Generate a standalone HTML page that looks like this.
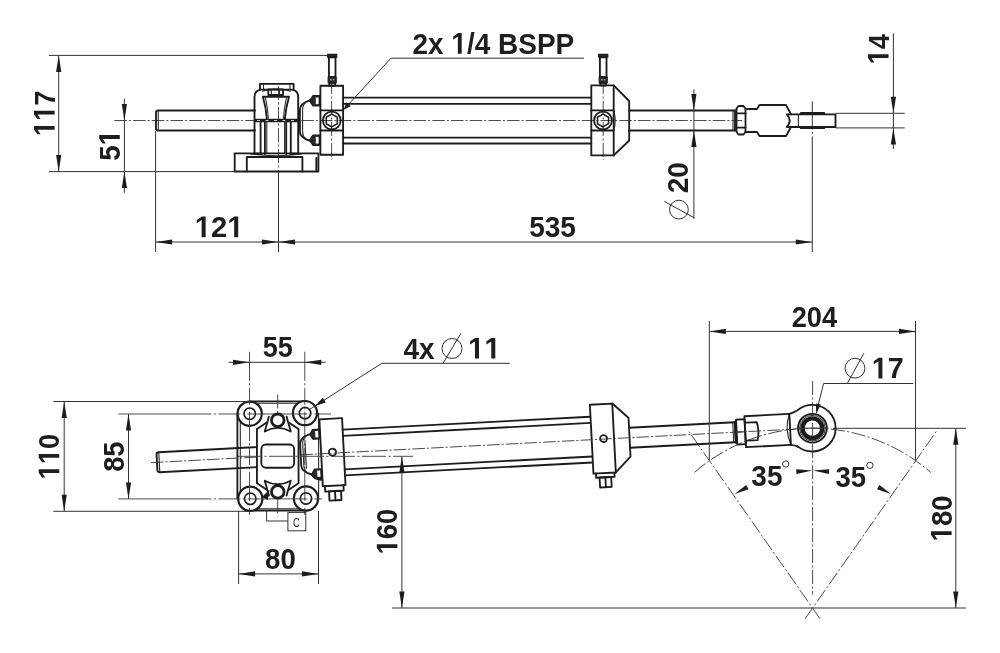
<!DOCTYPE html>
<html><head><meta charset="utf-8"><title>Cylinder dimensions</title>
<style>
html,body{margin:0;padding:0;background:#fff;}
body{width:1000px;height:653px;overflow:hidden;font-family:"Liberation Sans",sans-serif;}
svg{display:block;filter:blur(0.4px)}
.t{fill:none;stroke:#1c1c1c;stroke-width:1.85;stroke-linejoin:round;stroke-linecap:round}
.tw{fill:#fff;stroke:#1c1c1c;stroke-width:1.85;stroke-linejoin:round}
.tkw{fill:#fff;stroke:#1c1c1c;stroke-width:2.8}
.tt{fill:none;stroke:#1c1c1c;stroke-width:2.4;stroke-linecap:round}
.tf{fill:#2a2a2a;stroke:#1c1c1c;stroke-width:1.2;stroke-linejoin:round}
.w{fill:#fff;stroke:none}
.wl{stroke:#fff;stroke-width:0.8}
.m{fill:none;stroke:#2a2a2a;stroke-width:1.1}
.bo{fill:#fff;stroke:#1c1c1c;stroke-width:2.2}
.bi{fill:none;stroke:#1c1c1c;stroke-width:1.65}
.band{stroke:#1c1c1c;stroke-width:3.6}
.h{fill:none;stroke:#1c1c1c;stroke-width:1.5;stroke-linejoin:miter}
.n{fill:none;stroke:#333;stroke-width:1}
.c{fill:none;stroke:#383838;stroke-width:0.9;stroke-dasharray:14 2.5 2 2.5}
.c2{fill:none;stroke:#333;stroke-width:1;stroke-dasharray:28 2.5 2 2.5 300}
.a{fill:#1c1c1c;stroke:none}
.ring{fill:none;stroke:#1c1c1c;stroke-width:4.4}
.tx{font-family:"Liberation Sans",sans-serif;font-weight:bold;font-size:28px;fill:#1e1e1e;font-kerning:none;letter-spacing:0}
.hid{fill:none}
.one{fill:#1e1e1e}
.txr{font-family:"Liberation Sans",sans-serif;font-size:12.5px;fill:#222}
</style></head>
<body>
<svg width="1000" height="653" viewBox="0 0 1000 653">
<rect x="0" y="0" width="1000" height="653" fill="#ffffff"/>
<g id="top">
<line x1="114.40" y1="120.50" x2="742.00" y2="120.50" class="c" style="stroke-dasharray:12.5 2 2 2.2"/>
<line x1="278.50" y1="86.00" x2="278.50" y2="172.00" class="c"/>
<line x1="278.50" y1="172.00" x2="278.50" y2="252.00" class="n"/>
<line x1="331.60" y1="80.00" x2="331.60" y2="160.00" class="c"/>
<line x1="603.20" y1="80.00" x2="603.20" y2="160.00" class="c"/>
<line x1="812.30" y1="101.40" x2="812.30" y2="252.00" class="c2"/>
<path d="M255,110.5 H158 Q156,110.5 156,112.5 V128.5 Q156,130.5 158,130.5 H255" class="t" />
<line x1="158.30" y1="110.50" x2="158.30" y2="130.50" class="m"/>
<path d="M260,89.6 V83.8 H293.6 V89.6" class="t" />
<line x1="263.50" y1="83.80" x2="263.50" y2="89.00" class="m"/>
<line x1="290.00" y1="83.80" x2="290.00" y2="89.00" class="m"/>
<path d="M254.5,154 V97 Q254.5,90.5 261,89.6 H292 Q298.2,90.5 298.2,97 V154" class="t" />
<path d="M262,91.2 Q276,87 291,91.2" class="m" />
<rect x="268.30" y="89.40" width="14.70" height="5.60" rx="0" class="t"/>
<line x1="271.40" y1="89.40" x2="271.40" y2="95.00" class="m"/>
<line x1="279.50" y1="89.40" x2="279.50" y2="95.00" class="m"/>
<path d="M262.9,96.7 H289 Q286,107 284.9,118.6 M262.9,96.7 Q266,107 266.8,118.6" class="t" />
<path d="M265.4,97 Q267.6,108 268.4,118.6 M286.5,97 Q284.2,108 283.4,118.6" class="m" />
<line x1="254.50" y1="120.55" x2="298.20" y2="120.55" class="band"/>
<line x1="257.00" y1="120.55" x2="297.00" y2="120.55" class="wl" style="stroke-dasharray:3 5.5"/>
<line x1="260.60" y1="121.70" x2="260.60" y2="154.00" class="t"/>
<line x1="264.90" y1="121.70" x2="264.90" y2="154.00" class="t"/>
<line x1="286.20" y1="121.70" x2="286.20" y2="154.00" class="t"/>
<line x1="290.80" y1="121.70" x2="290.80" y2="154.00" class="t"/>
<line x1="266.80" y1="121.70" x2="266.80" y2="154.00" class="m"/>
<line x1="284.60" y1="121.70" x2="284.60" y2="154.00" class="m"/>
<rect x="234.70" y="153.30" width="83.70" height="18.20" rx="0" class="t"/>
<path d="M246.8,171.5 V157 H302.4 V171.5" class="t" />
<path d="M250,154 Q276,157.5 302,154" class="m" />
<line x1="316.30" y1="158.00" x2="316.30" y2="170.00" class="t"/>
<line x1="254.50" y1="153.90" x2="261.50" y2="153.90" class="tt"/>
<line x1="290.50" y1="153.90" x2="298.20" y2="153.90" class="tt"/>
<path d="M309.5,100.3 Q300,103.5 299.9,109.5 V132 Q300,137.5 309.5,140.7" class="t" />
<path d="M306,102 Q302.6,105 302.6,109.5 V132 Q302.6,136 306,139" class="m" />
<polygon points="309.5,100.8 313,95.6 320.4,95.6 320.4,106.0 313,106.0" class="tf"/>
<rect x="315.80" y="97.50" width="2.80" height="6.60" rx="0" class="w"/>
<polygon points="309.5,140.2 313,135.0 320.4,135.0 320.4,145.39999999999998 313,145.39999999999998" class="tf"/>
<rect x="315.80" y="136.90" width="2.80" height="6.60" rx="0" class="w"/>
<rect x="320.40" y="85.70" width="22.70" height="69.00" rx="0" class="t"/>
<line x1="320.40" y1="110.40" x2="343.10" y2="110.40" class="t"/>
<line x1="320.40" y1="130.50" x2="343.10" y2="130.50" class="t"/>
<circle cx="331.80" cy="120.50" r="8.90" class="t"/>
<polygon points="337.34,123.70 331.80,126.90 326.26,123.70 326.26,117.30 331.80,114.10 337.34,117.30" class="h"/>
<rect x="327.60" y="54.40" width="9.20" height="2.80" rx="0" class="tf"/>
<rect x="328.90" y="57.20" width="6.60" height="19.80" rx="0" class="t"/>
<rect x="328.20" y="77.00" width="8.00" height="5.80" rx="0" class="tf"/>
<line x1="330.00" y1="79.80" x2="331.60" y2="79.80" class="wl"/>
<line x1="332.80" y1="79.80" x2="334.40" y2="79.80" class="wl"/>
<rect x="329.30" y="82.80" width="5.80" height="2.90" rx="0" class="t"/>
<rect x="598.60" y="54.40" width="9.20" height="2.80" rx="0" class="tf"/>
<rect x="599.90" y="57.20" width="6.60" height="19.80" rx="0" class="t"/>
<rect x="599.20" y="77.00" width="8.00" height="5.80" rx="0" class="tf"/>
<line x1="601.00" y1="79.80" x2="602.60" y2="79.80" class="wl"/>
<line x1="603.80" y1="79.80" x2="605.40" y2="79.80" class="wl"/>
<rect x="600.30" y="82.80" width="5.80" height="2.80" rx="0" class="t"/>
<line x1="343.10" y1="97.60" x2="591.30" y2="97.60" class="t"/>
<line x1="343.10" y1="103.80" x2="591.30" y2="103.80" class="t"/>
<line x1="343.10" y1="137.60" x2="591.30" y2="137.60" class="t"/>
<line x1="343.10" y1="143.50" x2="591.30" y2="143.50" class="t"/>
<path d="M591.3,85.4 H613.7 L629.2,101 V140.5 L613.7,155.4 H591.3 Z" class="t" />
<line x1="613.70" y1="85.40" x2="613.70" y2="155.40" class="t"/>
<circle cx="603.00" cy="120.50" r="8.90" class="t"/>
<polygon points="608.54,123.70 603.00,126.90 597.46,123.70 597.46,117.30 603.00,114.10 608.54,117.30" class="h"/>
<line x1="591.30" y1="110.40" x2="613.70" y2="110.40" class="t"/>
<line x1="591.30" y1="130.50" x2="613.70" y2="130.50" class="t"/>
<path d="M613.7,110.4 Q616.8,120.5 613.7,130.5" class="m" />
<line x1="629.20" y1="110.50" x2="735.00" y2="110.50" class="t"/>
<line x1="629.20" y1="130.50" x2="735.00" y2="130.50" class="t"/>
<line x1="735.00" y1="110.50" x2="735.00" y2="130.50" class="t"/>
<line x1="733.00" y1="110.50" x2="733.00" y2="130.50" class="m"/>
<path d="M738.5,106 H743.5 L745.5,108.5 V132 L743.5,134.5 H738.5 L736.5,132 V108.5 Z" class="t" />
<path d="M736.5,113.3 H745.5 M736.5,127.6 H745.5" class="t" />
<path d="M745.5,109 H757 L759.5,105 H786 L791,114.4 H835.5 V127 H791 L786,136 H759.5 L757,132 H745.5" class="t" />
<path d="M791,114.4 H786.8 Q792.6,120.7 786.8,127 H791" class="t" />
<line x1="798.40" y1="114.40" x2="798.40" y2="127.00" class="m"/>
<line x1="801.00" y1="113.30" x2="824.00" y2="113.30" class="tt"/>
<line x1="801.00" y1="127.90" x2="824.00" y2="127.90" class="tt"/>
</g>
<line x1="48.90" y1="55.40" x2="327.50" y2="55.40" class="n"/>
<line x1="48.90" y1="171.60" x2="234.70" y2="171.60" class="n"/>
<line x1="58.70" y1="55.40" x2="58.70" y2="171.60" class="n"/>
<polygon points="58.70,55.40 61.30,71.90 56.10,71.90" class="a"/>
<polygon points="58.70,171.60 56.10,155.10 61.30,155.10" class="a"/>
<g transform="translate(54.60,113.28) rotate(-90) scale(0.975,1.07)"><text text-anchor="middle" class="tx"><tspan class="hid">1</tspan><tspan class="hid">1</tspan>7</text>
<path class="one" d="M478 0V1170L140 959V1180L493 1409H759V0Z" transform="translate(-23.36,0) scale(0.01367,-0.01367)"/>
<path class="one" d="M478 0V1170L140 959V1180L493 1409H759V0Z" transform="translate(-7.79,0) scale(0.01367,-0.01367)"/>
</g>
<line x1="124.40" y1="98.70" x2="124.40" y2="192.70" class="n"/>
<polygon points="124.40,120.50 121.80,104.00 127.00,104.00" class="a"/>
<polygon points="124.40,171.60 127.00,188.10 121.80,188.10" class="a"/>
<g transform="translate(119.80,145.40) rotate(-90) scale(0.993,1.07)"><text text-anchor="middle" class="tx">5<tspan class="hid">1</tspan></text>
<path class="one" d="M478 0V1170L140 959V1180L493 1409H759V0Z" transform="translate(0.00,0) scale(0.01367,-0.01367)"/>
</g>
<line x1="155.60" y1="131.00" x2="155.60" y2="252.00" class="n"/>
<line x1="155.60" y1="242.00" x2="812.30" y2="242.00" class="n"/>
<polygon points="155.60,242.00 172.10,239.40 172.10,244.60" class="a"/>
<polygon points="278.50,242.00 262.00,244.60 262.00,239.40" class="a"/>
<polygon points="278.50,242.00 295.00,239.40 295.00,244.60" class="a"/>
<polygon points="812.30,242.00 795.80,244.60 795.80,239.40" class="a"/>
<g transform="translate(219.21,237.20) scale(1.045,1.07)"><text text-anchor="middle" class="tx"><tspan class="hid">1</tspan>2<tspan class="hid">1</tspan></text>
<path class="one" d="M478 0V1170L140 959V1180L493 1409H759V0Z" transform="translate(-23.36,0) scale(0.01367,-0.01367)"/>
<path class="one" d="M478 0V1170L140 959V1180L493 1409H759V0Z" transform="translate(7.79,0) scale(0.01367,-0.01367)"/>
</g>
<g transform="translate(552.56,237.20) scale(1.003,1.07)"><text text-anchor="middle" class="tx">535</text>
</g>
<g transform="translate(412.40,53.70) scale(1.000,1.07)"><text text-anchor="start" class="tx">2x <tspan class="hid">1</tspan>/4 BSPP</text>
<path class="one" d="M478 0V1170L140 959V1180L493 1409H759V0Z" transform="translate(38.92,0) scale(0.01367,-0.01367)"/>
</g>
<path d="M584,58.2 H391 L344.5,108.7" class="n" />
<polygon points="343.60,109.70 346.54,102.22 350.81,106.14" class="a"/>
<line x1="693.90" y1="89.50" x2="693.90" y2="219.00" class="n"/>
<polygon points="693.90,110.50 691.30,94.00 696.50,94.00" class="a"/>
<polygon points="693.90,130.50 696.50,147.00 691.30,147.00" class="a"/>
<g transform="translate(688.40,177.71) rotate(-90) scale(0.999,1.07)"><text text-anchor="middle" class="tx">20</text>
</g>
<circle cx="678.90" cy="209.60" r="9.40" class="n"/>
<line x1="664.20" y1="201.40" x2="693.90" y2="217.70" class="n"/>
<line x1="893.40" y1="33.40" x2="893.40" y2="149.00" class="n"/>
<line x1="835.50" y1="113.30" x2="904.70" y2="113.30" class="n"/>
<line x1="835.50" y1="127.90" x2="904.70" y2="127.90" class="n"/>
<polygon points="893.40,113.30 890.80,96.80 896.00,96.80" class="a"/>
<polygon points="893.40,127.90 896.00,144.40 890.80,144.40" class="a"/>
<g transform="translate(888.50,49.21) rotate(-90) scale(0.973,1.07)"><text text-anchor="middle" class="tx"><tspan class="hid">1</tspan>4</text>
<path class="one" d="M478 0V1170L140 959V1180L493 1409H759V0Z" transform="translate(-15.57,0) scale(0.01367,-0.01367)"/>
</g>
<g id="plate">
<path d="M249.7,401.4 H305 M237.4,413.7 V498.8 M250.3,510.6 H306" class="t" />
<path d="M256,403.2 H299 M240.3,421 V491.5 M257,508.9 H300" class="m" />
<line x1="318.60" y1="413.10" x2="318.60" y2="498.50" class="m"/>
<circle cx="249.70" cy="413.70" r="12.10" class="bo"/>
<circle cx="249.70" cy="413.70" r="5.70" class="bi"/>
<circle cx="305.00" cy="413.10" r="12.10" class="bo"/>
<circle cx="305.00" cy="413.10" r="5.70" class="bi"/>
<circle cx="250.30" cy="498.80" r="12.10" class="bo"/>
<circle cx="250.30" cy="498.80" r="5.70" class="bi"/>
<circle cx="306.00" cy="498.50" r="12.10" class="bo"/>
<circle cx="306.00" cy="498.50" r="5.70" class="bi"/>
</g>
<line x1="249.50" y1="351.80" x2="249.50" y2="515.00" class="c" style="stroke-dasharray:29 2.5 2 2.5 17 2.5 2 2.5"/>
<line x1="304.80" y1="351.80" x2="304.80" y2="515.00" class="c" style="stroke-dasharray:29 2.5 2 2.5 17 2.5 2 2.5"/>
<line x1="118.40" y1="414.00" x2="331.00" y2="414.00" class="c" style="stroke-dasharray:93 2.5 2 2.5 22 2.5 2 2.5 60 2.5 2 2.5"/>
<line x1="118.40" y1="498.90" x2="322.00" y2="498.90" class="c" style="stroke-dasharray:93 2.5 2 2.5 22 2.5 2 2.5 60 2.5 2 2.5"/>
<line x1="277.70" y1="394.50" x2="277.70" y2="516.50" class="c"/>
<g id="cyl" transform="translate(812.4,428.2) rotate(-2.98)">
<path d="M-554.3,-10 H-654.3 Q-656.3,-10 -656.3,-8 V8 Q-656.3,10 -654.3,10 H-554.3" class="t" />
<line x1="-654.00" y1="-10.00" x2="-654.00" y2="10.00" class="m"/>
<path d="M-502.79999999999995,-20 Q-512.3,-17 -512.4,-11 V11 Q-512.3,17 -502.79999999999995,20" class="t" />
<path d="M-505.79999999999995,-19.5 Q-509.79999999999995,-15.5 -509.79999999999995,-11 V11 Q-509.79999999999995,15.5 -505.79999999999995,19.5" class="m" />
<path d="M-507.4,-14 V14" class="m" />
<path d="M-502.79999999999995,20 Q-499.79999999999995,25.5 -492.79999999999995,26" class="t" />
<polygon points="-502.29999999999995,-19.8 -499.29999999999995,-24.6 -491.9,-24.6 -491.9,-15.0 -499.29999999999995,-15.0" class="tf"/>
<rect x="-496.80" y="-23.00" width="3.00" height="6.40" rx="0" class="w"/>
<polygon points="-502.29999999999995,19.8 -499.29999999999995,15.0 -491.9,15.0 -491.9,24.6 -499.29999999999995,24.6" class="tf"/>
<rect x="-496.80" y="16.60" width="3.00" height="6.40" rx="0" class="w"/>
<rect x="-491.90" y="-34.50" width="22.70" height="67.00" rx="0" class="tw"/>
<circle cx="-480.50" cy="-1.00" r="3.60" class="tw"/>
<path d="M-489.79999999999995,32.5 V38 H-471.29999999999995 V32.5" class="t" />
<rect x="-486.00" y="38.00" width="12.00" height="9.20" rx="0" class="t"/>
<line x1="-480.00" y1="38.00" x2="-480.00" y2="47.20" class="t"/>
<line x1="-469.20" y1="-23.00" x2="-221.00" y2="-23.00" class="t"/>
<line x1="-469.20" y1="-16.80" x2="-221.00" y2="-16.80" class="t"/>
<line x1="-469.20" y1="16.80" x2="-221.00" y2="16.80" class="t"/>
<line x1="-469.20" y1="22.80" x2="-221.00" y2="22.80" class="t"/>
<path d="M-221.0,-35 H-198.5999999999999 L-183.0999999999999,-20 V19 L-198.5999999999999,34 H-221.0 Z" class="tw" />
<line x1="-198.60" y1="-35.00" x2="-198.60" y2="34.00" class="t"/>
<circle cx="-209.10" cy="-0.50" r="3.40" class="tw"/>
<path d="M-218.5,34 V38.2 H-200.0999999999999 V34" class="t" />
<rect x="-215.10" y="38.20" width="11.60" height="10.00" rx="0" class="t"/>
<line x1="-209.30" y1="38.20" x2="-209.30" y2="48.20" class="t"/>
<line x1="-183.10" y1="-10.00" x2="-77.30" y2="-10.00" class="t"/>
<line x1="-183.10" y1="10.00" x2="-77.30" y2="10.00" class="t"/>
<line x1="-77.30" y1="-10.00" x2="-77.30" y2="10.00" class="t"/>
<line x1="-79.30" y1="-10.00" x2="-79.30" y2="10.00" class="m"/>
<line x1="-76.70" y1="-10.50" x2="-76.70" y2="10.50" class="tt"/>
<rect x="-75.80" y="-12.50" width="8.50" height="25.00" rx="0" class="t"/>
<line x1="-75.80" y1="0.00" x2="-67.30" y2="0.00" class="m"/>
<path d="M-67.29999999999995,-15.5 H-22.299999999999955 M-67.29999999999995,15.5 H-22.299999999999955 M-67.29999999999995,-15.5 V15.5" class="t" />
<path d="M-66.29999999999995,-9 H-55.299999999999955 Q-52.799999999999955,0 -55.299999999999955,9 H-66.29999999999995" class="t" />
<path d="M-22.299999999999955,-15.5 Q-28.299999999999955,0 -22.299999999999955,15.5" class="m" />
<path d="M-22.299999999999955,-15.5 V15.5" class="t" />
<line x1="-662.30" y1="0.00" x2="-17.00" y2="0.00" class="c" style="stroke-dasharray:12.5 2 2 2.2"/>
<path d="M-22.299999999999955,-15.5 Q-18.299999999999955,-16 -15.299999999999955,-17.9 M-22.299999999999955,15.5 Q-18.299999999999955,16 -15.299999999999955,17.9" class="t" />
</g>
<polygon points="256.95,428.90000000000003 266.75,422.40000000000003 288.75,422.40000000000003 298.55,428.90000000000003 298.55,483.3 288.75,489.8 266.75,489.8 256.95,483.3" class="w"/>
<path d="M266.75,422.40000000000003 L256.95,428.90000000000003 V483.3 L266.75,489.8 M288.75,422.40000000000003 L298.55,428.90000000000003 V483.3 L288.75,489.8" class="t" />
<path d="M264.75,431.5 L268.95,416.6 M290.75,431.5 L286.55,416.6 M264.75,431.5 Q277.75,424.3 290.75,431.5" class="t" />
<circle cx="277.75" cy="420.30" r="6.30" class="tkw"/>
<path d="M264.75,480.70000000000005 L268.95,495.6 M290.75,480.70000000000005 L286.55,495.6 M264.75,480.70000000000005 Q277.75,487.90000000000003 290.75,480.70000000000005" class="t" />
<circle cx="277.75" cy="491.90" r="6.30" class="tkw"/>
<rect x="261.35" y="444.50" width="32.80" height="23.20" rx="4.5" class="t"/>
<path d="M797.40,410.30 A23.3,23.3 0 1 1 797.40,446.10" class="t"/>
<circle cx="812.40" cy="428.20" r="14.40" class="t"/>
<circle cx="812.40" cy="428.20" r="12.80" class="n"/>
<circle cx="812.40" cy="428.20" r="9.85" class="ring"/>
<line x1="796.40" y1="428.20" x2="828.40" y2="428.20" class="n"/>
<line x1="53.40" y1="401.50" x2="249.90" y2="401.50" class="n"/>
<line x1="53.40" y1="511.30" x2="250.00" y2="511.30" class="n"/>
<line x1="64.20" y1="401.50" x2="64.20" y2="511.30" class="n"/>
<polygon points="64.20,401.50 66.80,418.00 61.60,418.00" class="a"/>
<polygon points="64.20,511.30 61.60,494.80 66.80,494.80" class="a"/>
<g transform="translate(59.30,456.60) rotate(-90) scale(0.975,1.07)"><text text-anchor="middle" class="tx"><tspan class="hid">1</tspan><tspan class="hid">1</tspan>0</text>
<path class="one" d="M478 0V1170L140 959V1180L493 1409H759V0Z" transform="translate(-23.36,0) scale(0.01367,-0.01367)"/>
<path class="one" d="M478 0V1170L140 959V1180L493 1409H759V0Z" transform="translate(-7.79,0) scale(0.01367,-0.01367)"/>
</g>
<line x1="128.50" y1="414.00" x2="128.50" y2="498.90" class="n"/>
<polygon points="128.50,414.00 131.10,430.50 125.90,430.50" class="a"/>
<polygon points="128.50,498.90 125.90,482.40 131.10,482.40" class="a"/>
<g transform="translate(124.20,456.65) rotate(-90) scale(0.977,1.07)"><text text-anchor="middle" class="tx">85</text>
</g>
<line x1="228.50" y1="362.30" x2="325.60" y2="362.30" class="n"/>
<polygon points="249.50,362.30 233.00,364.90 233.00,359.70" class="a"/>
<polygon points="304.80,362.30 321.30,359.70 321.30,364.90" class="a"/>
<g transform="translate(277.71,356.60) scale(0.966,1.07)"><text text-anchor="middle" class="tx">55</text>
</g>
<g transform="translate(403.40,358.60) scale(1.000,1.07)"><text text-anchor="start" class="tx">4x</text>
</g>
<g transform="translate(484.42,358.60) scale(1.048,1.07)"><text text-anchor="middle" class="tx"><tspan class="hid">1</tspan><tspan class="hid">1</tspan></text>
<path class="one" d="M478 0V1170L140 959V1180L493 1409H759V0Z" transform="translate(-15.57,0) scale(0.01367,-0.01367)"/>
<path class="one" d="M478 0V1170L140 959V1180L493 1409H759V0Z" transform="translate(0.00,0) scale(0.01367,-0.01367)"/>
</g>
<circle cx="452.00" cy="348.50" r="10.00" class="n"/>
<line x1="443.00" y1="363.30" x2="461.00" y2="333.20" class="n"/>
<path d="M509.7,363.3 H381.8 L310,409.2" class="n" />
<polygon points="315.00,406.00 322.76,397.71 325.78,402.43" class="a"/>
<line x1="238.60" y1="511.00" x2="238.60" y2="584.00" class="n"/>
<line x1="318.50" y1="511.00" x2="318.50" y2="584.00" class="n"/>
<line x1="238.60" y1="573.90" x2="318.50" y2="573.90" class="n"/>
<polygon points="238.60,573.90 255.10,571.30 255.10,576.50" class="a"/>
<polygon points="318.50,573.90 302.00,576.50 302.00,571.30" class="a"/>
<g transform="translate(280.38,569.10) scale(0.986,1.07)"><text text-anchor="middle" class="tx">80</text>
</g>
<rect x="287.90" y="512.40" width="17.90" height="18.40" rx="0" class="n"/>
<path d="M266.6,510.4 V521 H287.9" class="n" />
<text transform="translate(296.4,526.6) scale(0.76,1.06)" text-anchor="middle" class="txr">C</text>
<polygon points="269.60,489.60 267.82,499.98 261.99,496.88" class="a"/>
<line x1="238.00" y1="456.30" x2="413.00" y2="456.30" class="c" style="stroke-dasharray:24 2.5 2 2.5"/>
<line x1="401.90" y1="456.30" x2="401.90" y2="608.00" class="n"/>
<polygon points="401.90,456.30 404.50,472.80 399.30,472.80" class="a"/>
<polygon points="401.90,608.00 399.30,591.50 404.50,591.50" class="a"/>
<g transform="translate(397.40,531.60) rotate(-90) scale(0.975,1.07)"><text text-anchor="middle" class="tx"><tspan class="hid">1</tspan>60</text>
<path class="one" d="M478 0V1170L140 959V1180L493 1409H759V0Z" transform="translate(-23.36,0) scale(0.01367,-0.01367)"/>
</g>
<line x1="392.00" y1="608.00" x2="966.00" y2="608.00" class="n"/>
<line x1="833.00" y1="428.30" x2="966.00" y2="428.30" class="n"/>
<line x1="955.80" y1="428.30" x2="955.80" y2="608.00" class="n"/>
<polygon points="955.80,428.30 958.40,444.80 953.20,444.80" class="a"/>
<polygon points="955.80,608.00 953.20,591.50 958.40,591.50" class="a"/>
<g transform="translate(951.60,518.48) rotate(-90) scale(0.980,1.07)"><text text-anchor="middle" class="tx"><tspan class="hid">1</tspan>80</text>
<path class="one" d="M478 0V1170L140 959V1180L493 1409H759V0Z" transform="translate(-23.36,0) scale(0.01367,-0.01367)"/>
</g>
<line x1="709.30" y1="321.00" x2="709.30" y2="460.00" class="n"/>
<line x1="915.50" y1="321.00" x2="915.50" y2="460.00" class="n"/>
<line x1="709.30" y1="331.40" x2="915.50" y2="331.40" class="n"/>
<polygon points="709.30,331.40 725.80,328.80 725.80,334.00" class="a"/>
<polygon points="915.50,331.40 899.00,334.00 899.00,328.80" class="a"/>
<g transform="translate(814.35,327.30) scale(0.972,1.07)"><text text-anchor="middle" class="tx">204</text>
</g>
<g transform="translate(887.75,378.40) scale(1.029,1.07)"><text text-anchor="middle" class="tx"><tspan class="hid">1</tspan>7</text>
<path class="one" d="M478 0V1170L140 959V1180L493 1409H759V0Z" transform="translate(-15.57,0) scale(0.01367,-0.01367)"/>
</g>
<circle cx="855.00" cy="368.20" r="9.90" class="n"/>
<line x1="847.30" y1="383.50" x2="863.90" y2="353.20" class="n"/>
<path d="M913.2,383.5 H823.6 L817.2,409" class="n" />
<polygon points="816.20,414.20 815.94,403.43 820.65,404.39" class="a"/>
<line x1="812.60" y1="381.00" x2="812.60" y2="594.50" class="c"/>
<line x1="820.06" y1="618.75" x2="688.13" y2="430.34" class="c"/>
<line x1="805.14" y1="618.75" x2="937.07" y2="430.34" class="c"/>
<path d="M694.57,472.33 A179.9,179.9 0 0 1 930.63,472.33" class="c"/>
<polygon points="734.60,493.90 746.23,484.89 748.58,489.30" class="a"/>
<polygon points="891.00,493.90 877.02,489.30 879.37,484.89" class="a"/>
<polygon points="812.30,470.40 796.54,474.05 796.16,469.26" class="a"/>
<polygon points="813.10,470.40 829.24,469.26 828.86,474.05" class="a"/>
<g transform="translate(766.92,486.00) scale(0.999,1.07)"><text text-anchor="middle" class="tx">35</text>
</g>
<g transform="translate(850.87,487.00) scale(0.982,1.07)"><text text-anchor="middle" class="tx">35</text>
</g>
<circle cx="785.70" cy="464.00" r="3.15" class="n"/>
<circle cx="869.90" cy="465.30" r="3.15" class="n"/>
</svg>
</body></html>
